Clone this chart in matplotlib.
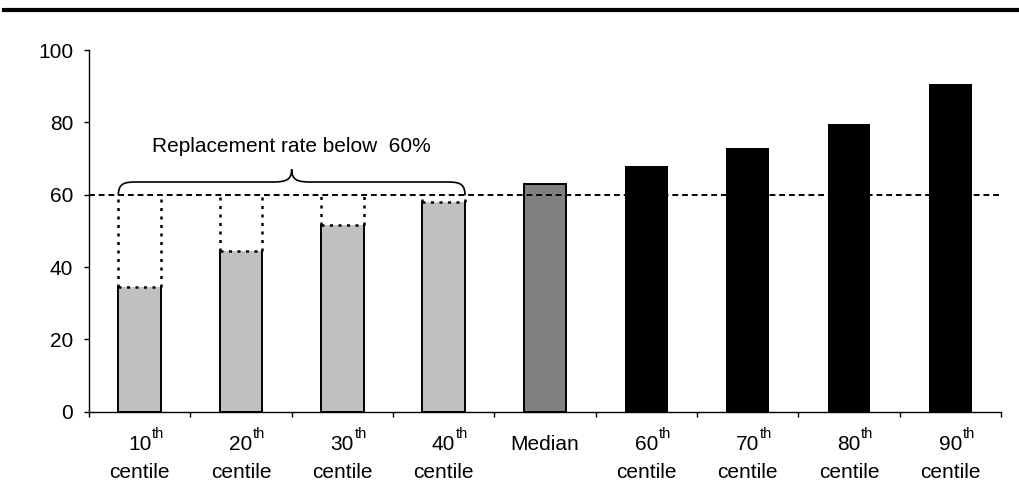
import numpy as np
import matplotlib
matplotlib.use("Agg")
import matplotlib.pyplot as plt
import matplotlib.transforms as mtransforms
from matplotlib.path import Path
from matplotlib.patches import PathPatch
from matplotlib.lines import Line2D

plt.rcParams['font.family'] = ['Liberation Sans', 'DejaVu Sans']

# Replacement rates by position in the earnings distribution
label_main = ['10', '20', '30', '40', 'Median', '60', '70', '80', '90']
label_sup = ['th', 'th', 'th', 'th', '', 'th', 'th', 'th', 'th']
label_second = ['centile', 'centile', 'centile', 'centile', '',
                'centile', 'centile', 'centile', 'centile']
values = [34.5, 44.5, 51.5, 58.0, 63.0, 68.0, 73.0, 79.5, 90.5]
bar_colors = ['#c0c0c0'] * 4 + ['#808080'] + ['#000000'] * 4
threshold = 60
brace_text = 'Replacement rate below  60%'
y_ticks = [0, 20, 40, 60, 80, 100]

FS = 15
fig = plt.figure(figsize=(10.19, 5.0), dpi=100)
ax = fig.add_axes([89 / 1019, 1 - 411.7 / 500, (1001 - 89) / 1019, (411.7 - 50) / 500])

x = np.arange(len(values))
w = 0.42
ax.bar(x, values, width=w, color=bar_colors, edgecolor='none', zorder=2)

dotted = (0, (1.2, 2.2))
for xi, v, c in zip(x, values, bar_colors):
    x0, x1 = xi - w / 2, xi + w / 2
    if c != '#000000':
        ax.plot([x0, x0, x1, x1], [v, 0, 0, v], color='black', lw=1.4,
                solid_joinstyle='miter', zorder=3)
    if v < threshold:
        ax.plot([x0, x1], [v, v], color='black', lw=1.8, linestyle=dotted, zorder=3)
        ax.plot([x0, x0], [v, threshold], color='black', lw=1.8, linestyle=dotted, zorder=3)
        ax.plot([x1, x1], [v, threshold], color='black', lw=1.8, linestyle=dotted, zorder=3)
    elif c != '#000000':
        ax.plot([x0, x1], [v, v], color='black', lw=1.4, zorder=3)

# 60% reference line
ax.axhline(threshold, color='black', lw=1.4, linestyle=(0, (3, 2)), zorder=4)

# Curly brace over the groups below the reference line
below = [i for i, v in enumerate(values) if v < threshold]
bx0 = below[0] - w / 2
bx1 = below[-1] + w / 2
bxm = (bx0 + bx1) / 2
yb, yf, yp = threshold, 63.5, 67.0
dx = 0.19
verts = [
    (bx0, yb), (bx0, yf), (bx0 + 0.08, yf), (bx0 + dx, yf),
    (bxm - dx, yf),
    (bxm - 0.06, yf), (bxm, yf + 0.5), (bxm, yp),
    (bxm, yf + 0.5), (bxm + 0.06, yf), (bxm + dx, yf),
    (bx1 - dx, yf),
    (bx1 - 0.08, yf), (bx1, yf), (bx1, yb),
]
codes = [Path.MOVETO, Path.CURVE4, Path.CURVE4, Path.CURVE4,
         Path.LINETO,
         Path.CURVE4, Path.CURVE4, Path.CURVE4,
         Path.CURVE4, Path.CURVE4, Path.CURVE4,
         Path.LINETO,
         Path.CURVE4, Path.CURVE4, Path.CURVE4]
ax.add_patch(PathPatch(Path(verts, codes), facecolor='none', edgecolor='black',
                       lw=1.2, zorder=5, capstyle='round'))
ax.text(bxm, 71.8, brace_text, ha='center', va='baseline', fontsize=FS)

# Axes styling
ax.set_xlim(-0.5, len(values) - 0.5)
ax.set_ylim(0, 100)
ax.set_yticks(y_ticks)
ax.set_yticklabels([str(t) for t in y_ticks], fontsize=FS)
ax.set_xticks(np.arange(-0.5, len(values), 1.0))
ax.set_xticklabels([])
ax.tick_params(axis='y', direction='out', length=3.6, width=1.0, pad=7.8)
ax.tick_params(axis='x', direction='out', length=3.6, width=1.0)
for s in ['top', 'right']:
    ax.spines[s].set_visible(False)
for s in ['left', 'bottom']:
    ax.spines[s].set_linewidth(1.0)

# Two-row category labels, with a raised ordinal suffix after the number
trans = mtransforms.blended_transform_factory(ax.transData, ax.transAxes)
sup_shift = mtransforms.ScaledTranslation(12 / 100, 12 / 100, fig.dpi_scale_trans)
for xi, m, sup, sec in zip(x, label_main, label_sup, label_second):
    ax.text(xi, -0.106, m, transform=trans, ha='center', va='baseline', fontsize=FS)
    if sup:
        ax.text(xi, -0.106, sup, transform=trans + sup_shift,
                ha='left', va='baseline', fontsize=10.5)
    if sec:
        ax.text(xi, -0.183, sec, transform=trans, ha='center', va='baseline', fontsize=FS)

# Heavy rule across the top of the figure
fig.add_artist(Line2D([4 / 1019, 1.0], [1 - 10 / 500, 1 - 10 / 500], color='black',
                      lw=3.0, transform=fig.transFigure))

fig.savefig('out.png', dpi=100)
